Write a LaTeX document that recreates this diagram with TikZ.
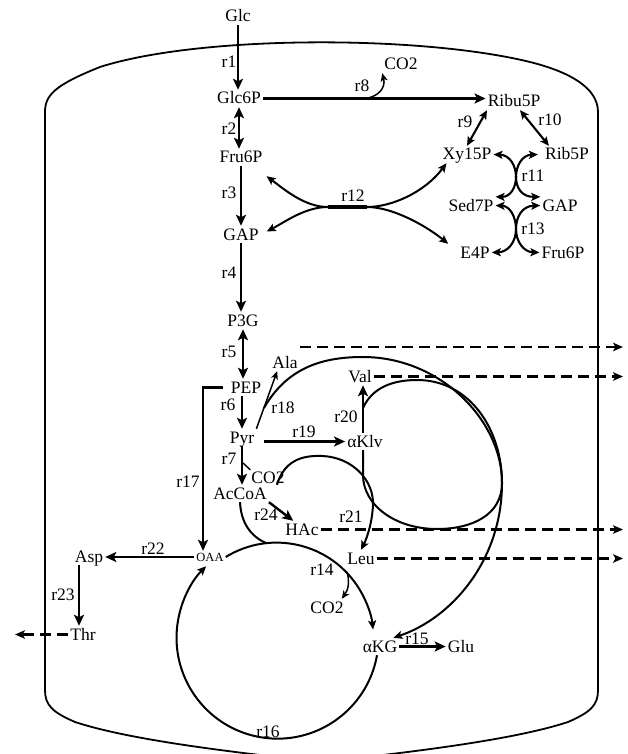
\documentclass[tikz,border=0pt]{standalone}
\usepackage{fontspec}
\setmainfont{Liberation Serif}
\usetikzlibrary{arrows.meta}
\newcommand{\pSmallCaps}[1]{{\fontsize{12.5}{14}\selectfont #1}}

\begin{document}
\begin{tikzpicture}[x=1pt,y=-1pt,
  font=\fontsize{17.5}{20}\selectfont,
  met/.style={anchor=base, inner sep=2pt, text height=12pt, text depth=1pt},
  lbl/.style={anchor=base, inner sep=0pt},
  arr/.style={line width=2.4pt, -{Stealth[length=11pt,width=10pt,inset=2.5pt]}},
  darr/.style={line width=2.4pt, {Stealth[length=11pt,width=10pt,inset=2.5pt]}-{Stealth[length=11pt,width=10pt,inset=2.5pt]}},
  carr/.style={line width=2pt, -{Stealth[length=9pt,width=8pt,inset=2pt]}},
  dcarr/.style={line width=2.1pt, {Stealth[length=9pt,width=8pt,inset=2pt]}-{Stealth[length=9pt,width=8pt,inset=2pt]}},
  farr/.style={line width=1.5pt, -{Stealth[length=8pt,width=7pt,inset=2pt]}},
  outflow/.style={line width=2.2pt, dash pattern=on 11pt off 6pt, -{Stealth[length=10pt,width=8.5pt,inset=2.5pt]}},
  tcaline/.style={line width=2pt},
  cell/.style={line width=1.8pt}]
\useasboundingbox (0,0) rectangle (627,754);
\clip (0,0) rectangle (627,754);
\draw[cell] (45,690) -- (45,112) .. controls (45,95) and (55,85) .. (100,67) .. controls (200,35) and (420,35) .. (530,62) .. controls (570,72) and (598,88) .. (598,112) -- (598,690) .. controls (598,705) and (591,712) .. (568,722) .. controls (513,740) and (413,752) .. (321.5,762) .. controls (230,752) and (130,740) .. (75,722) .. controls (52,712) and (45,705) .. cycle;
\node[met] (glc) at (238,22) {Glc};
\node[met] (glc6p) at (239,104) {Glc6P};
\node[met] (fru6p) at (241,163) {Fru6P};
\node[met] (gap) at (241,240) {GAP};
\node[met] (p3g) at (243,326) {P3G};
\node[met] (pep) at (246,393) {PEP};
\node[met] (pyr) at (242,443) {Pyr};
\node[met] (accoa) at (240,499) {AcCoA};
\node[met,inner sep=1pt] (co2c) at (268,483) {CO2};
\node[met] (ala) at (285,368) {Ala};
\node[met] (val) at (360,382) {Val};
\node[met] (aklv) at (365,447) {αKlv};
\node[met] (hac) at (302,535) {HAc};
\node[met] (leu) at (361,564) {Leu};
\node[met] (co2b) at (327,613) {CO2};
\node[met] (akg) at (380,652) {αKG};
\node[met] (glu) at (461,652) {Glu};
\node[met,text height=8pt,text depth=0pt] (oaa) at (210,561) {\pSmallCaps{OAA}};
\node[met] (asp) at (89,562) {Asp};
\node[met] (thr) at (83,640) {Thr};
\node[met] (ribu5p) at (514,107) {Ribu5P};
\node[met] (co2a) at (401,70) {CO2};
\node[met] (xy15p) at (467,160) {Xy15P};
\node[met] (rib5p) at (567,160) {Rib5P};
\node[met] (sed7p) at (471,211) {Sed7P};
\node[met] (gapr) at (560,211) {GAP};
\node[met] (e4p) at (475,258) {E4P};
\node[met] (fru6pr) at (563,258) {Fru6P};
\node[lbl] (l1) at (229,68) {r1};
\node[lbl] (l2) at (229,135) {r2};
\node[lbl] (l3) at (229,198) {r3};
\node[lbl] (l4) at (229,278) {r4};
\node[lbl] (l5) at (229,357) {r5};
\node[lbl] (l6) at (228,410) {r6};
\node[lbl] (l7) at (229,464) {r7};
\node[lbl] (l8) at (362,92) {r8};
\node[lbl] (l9) at (465,128) {r9};
\node[lbl] (l10) at (550,126) {r10};
\node[lbl] (l11) at (533,182) {r11};
\node[lbl] (l12) at (353,201) {r12};
\node[lbl] (l13) at (533,234) {r13};
\node[lbl] (l14) at (322,575) {r14};
\node[lbl] (l15) at (417,644) {r15};
\node[lbl] (l16) at (268,737) {r16};
\node[lbl] (l17) at (188,487) {r17};
\node[lbl] (l18) at (283,413) {r18};
\node[lbl] (l19) at (304,437) {r19};
\node[lbl] (l20) at (346,422) {r20};
\node[lbl] (l21) at (351,522) {r21};
\node[lbl] (l22) at (153,554) {r22};
\node[lbl] (l23) at (63,600) {r23};
\node[lbl] (l24) at (266,520) {r24};
\coordinate (c8) at (365,98.5);
\coordinate (c7) at (243,463);
\coordinate (c18) at (264,408);
\coordinate (c20) at (363,408);
\coordinate (ccit) at (266,543);
\coordinate (c14) at (347,572);
\coordinate (x11) at (516,177);
\coordinate (x13) at (516,229);
\coordinate (r12a) at (328,207);
\coordinate (r12b) at (367,207);
\coordinate (alaout) at (623,347);
\coordinate (valout) at (623,378);
\coordinate (hacout) at (623,531);
\coordinate (leuout) at (623,559);
\coordinate (throut) at (15,635);
\coordinate (k17) at ([xshift=-7pt]oaa.north);
\coordinate (k20) at ([xshift=-2pt]aklv.north);
\coordinate (k23) at ([xshift=-10pt]asp.south);
\draw[arr] (glc.south) -- (glc.south |- glc6p.north);
\draw[darr] (glc6p.south) -- (glc6p.south |- fru6p.north);
\draw[arr] (fru6p.south) -- (fru6p.south |- gap.north);
\draw[arr] (gap.south) -- (gap.south |- p3g.north);
\draw[darr] (p3g.south) -- (p3g.south |- pep.north);
\draw[arr] (pyr.north |- pep.south) -- (pyr.north);
\draw[arr] (pyr.south) -- (pyr.south |- accoa.north);
\draw[line width=1.4pt] (c7) -- (co2c.north west);
\draw[arr] (glc6p.east) -- (glc6p.east -| ribu5p.west);
\draw[farr] (c8) .. controls (378,97) and (386,88) .. (co2a.south west);
\draw[dcarr] ([xshift=-27pt]ribu5p.south) -- (xy15p.north);
\draw[dcarr] ([xshift=6pt]ribu5p.south) -- ([xshift=6pt]rib5p.north west);
\draw[dcarr] (xy15p.east) .. controls (510,155) and (516,166) .. (x11) .. controls (516,188) and (510,197) .. (sed7p.north east);
\draw[dcarr] ([xshift=-5pt]rib5p.west) .. controls (522,155) and (516,166) .. (x11) .. controls (516,188) and (522,197) .. (gapr.north west);
\draw[dcarr] (sed7p.east) .. controls (510,206) and (516,217) .. (x13) .. controls (516,242) and (508,252) .. (e4p.east);
\draw[dcarr] (gapr.west) .. controls (522,206) and (516,217) .. (x13) .. controls (516,242) and (524,252) .. (fru6pr.west);
\draw[line width=3.2pt] (r12a) -- (r12b);
\draw[carr] (r12a) .. controls (305,207) and (285,190) .. ([xshift=2pt,yshift=-10pt]fru6p.south east);
\draw[carr] (r12a) .. controls (305,207) and (285,222) .. ([xshift=6pt,yshift=3pt]gap.east);
\draw[carr] (r12b) .. controls (392,207) and (425,192) .. ([xshift=6pt]xy15p.south west);
\draw[carr] (r12b) .. controls (392,207) and (425,225) .. ([xshift=-10pt]e4p.north west);
\draw[arr] ([xshift=-6pt]pep.west) -| (k17);
\draw[arr] (oaa.west) -- (oaa.west -| asp.east);
\draw[arr] (k23) -- (k23 |- thr.north);
\draw[farr] (pyr.north east) -- ([xshift=7pt]ala.south west);
\draw[carr] (c18) .. controls (288,366) and (325,357) .. (363,357) .. controls (440,357) and (502,420) .. (502,483) .. controls (502,560) and (452,618) .. ([xshift=-6pt]akg.north east);
\draw[arr, shorten <=8pt] (aklv.west -| pyr.east) -- (aklv.west);
\draw[arr] (k20) -- (k20 |- val.south);
\draw[tcaline] (c20) .. controls (372,388) and (392,380) .. (417,380) .. controls (470,380) and (502,430) .. (502,483) .. controls (502,515) and (472,529) .. (437,529) .. controls (395,529) and (363,505) .. (363,475) -- ([xshift=-2pt]aklv.south);
\draw[carr] ([xshift=8pt]accoa.north east) .. controls (284,462) and (300,455) .. (322,456) .. controls (352,457) and (374,480) .. (373,505) .. controls (372,525) and (366,540) .. (leu.north);
\draw[tcaline] (accoa.south) .. controls (241,522) and (250,536) .. (ccit);
\draw[arr] (accoa.south east) -- ([xshift=10pt]hac.north west);
\draw[carr] (oaa.east) arc[start angle=-121.6, end angle=-6, radius=97];
\draw[carr] ([xshift=-3pt]akg.south) arc[start angle=10, end angle=225, radius=101];
\draw[farr] (c14) .. controls (350,582) and (348,590) .. ([xshift=-4pt]co2b.north east);
\draw[arr] (akg) -- (glu);
\draw[outflow] (ala.north east |- alaout) -- (alaout);
\draw[outflow] (val.east) -- (val.east -| valout);
\draw[outflow] (hac.east) -- (hac.east -| hacout);
\draw[outflow] (leu.east) -- (leu.east -| leuout);
\draw[outflow] (thr.west) -- (thr.west -| throut);
\end{tikzpicture}
\end{document}
